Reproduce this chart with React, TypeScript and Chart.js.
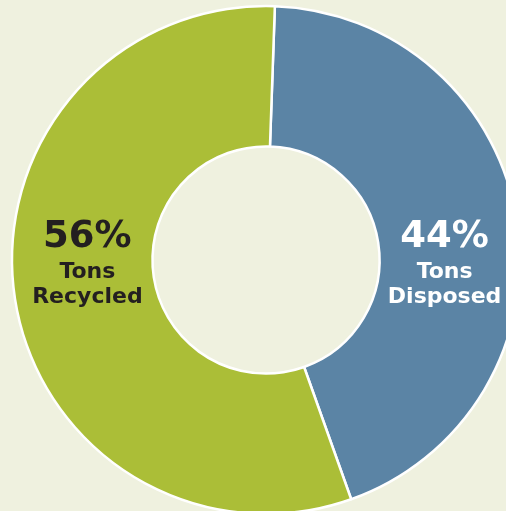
import React, { useEffect, useRef } from "react";
import { Chart, registerables } from "chart.js";

Chart.register(...registerables);

const categories = ["Tons Disposed", "Tons Recycled"];
const values = [44, 56];
const percentLabels = ["44%", "56%"];
const nameLines = [["Tons", "Disposed"], ["Tons", "Recycled"]];
const sliceColors = ["#5b84a5", "#abbe37"];
const textColors = ["#ffffff", "#231f20"];

const BG = "#eff1df";
const FONT = '"DejaVu Sans", sans-serif';

const labelPlugin = {
  id: "sliceLabels",
  afterDatasetsDraw(chart: any) {
    const meta = chart.getDatasetMeta(0);
    const ctx = chart.ctx;
    ctx.save();
    ctx.textAlign = "center";
    ctx.textBaseline = "alphabetic";
    meta.data.forEach((arc: any, i: number) => {
      const p = arc.tooltipPosition(false);
      const x = p.x - Math.sign(p.x - arc.x) * 3;
      const cy = arc.y;
      ctx.fillStyle = textColors[i];
      ctx.font = `bold 37px ${FONT}`;
      ctx.fillText(percentLabels[i], x, cy - 13);
      ctx.font = `bold 22px ${FONT}`;
      ctx.fillText(nameLines[i][0], x, cy + 18);
      ctx.fillText(nameLines[i][1], x, cy + 43);
    });
    ctx.restore();
  },
};

export default function App() {
  const ref = useRef<HTMLCanvasElement>(null);
  useEffect(() => {
    if (!ref.current) return;
    const chart = new Chart(ref.current, {
      type: "doughnut",
      data: {
        labels: categories,
        datasets: [
          {
            data: values,
            backgroundColor: sliceColors,
            borderColor: "#ffffff",
            borderWidth: 2.5,
            radius: 254,
            cutout: "44.7%",
          } as any,
        ],
      },
      options: {
        responsive: false,
        animation: false,
        rotation: 2,
        layout: { padding: 0 },
        plugins: {
          legend: { display: false },
          tooltip: { enabled: false },
        },
      } as any,
      plugins: [labelPlugin],
    });
    return () => chart.destroy();
  }, []);

  return (
    <div
      style={{
        position: "fixed",
        left: 0,
        top: 0,
        width: 506,
        height: 511,
        overflow: "hidden",
        background: BG,
      }}
    >
      <div style={{ position: "absolute", left: -14, top: -20, width: 560, height: 560 }}>
        <canvas ref={ref} width={560} height={560} />
      </div>
    </div>
  );
}
